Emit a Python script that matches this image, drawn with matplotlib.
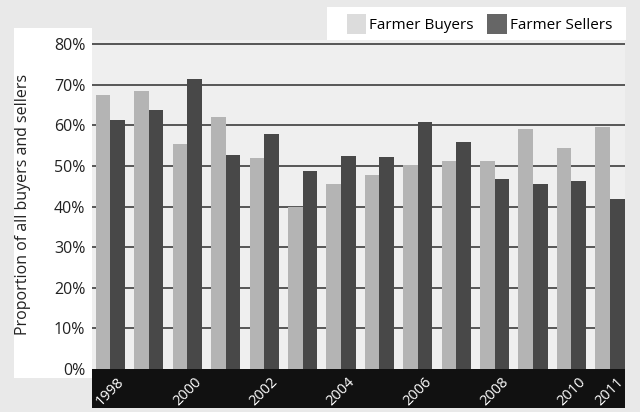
import matplotlib.pyplot as plt
from matplotlib.patches import Patch, Rectangle

years = [1998, 1999, 2000, 2001, 2002, 2003, 2004, 2005, 2006, 2007, 2008, 2009, 2010, 2011]
buyers = [67.5, 68.5, 55.3, 62.1, 51.9, 39.8, 45.5, 47.7, 50.2, 51.2, 51.2, 59.0, 54.3, 59.7]
sellers = [61.2, 63.7, 71.4, 52.8, 57.8, 48.7, 52.4, 52.3, 60.8, 56.0, 46.7, 45.5, 46.2, 41.9]
shown_years = [1998, 2000, 2002, 2004, 2006, 2008, 2010, 2011]
yticks = [0, 10, 20, 30, 40, 50, 60, 70, 80]

plt.rcParams['font.family'] = ['Open Sans', 'DejaVu Sans']

fig = plt.figure(figsize=(6.4, 4.12), dpi=100)
fig.patch.set_facecolor('#e9e9e9')

# white panels: behind the y axis labels and behind the legend
fig.patches.append(Rectangle((0.022, 0.083), 0.122, 0.85, transform=fig.transFigure,
                             facecolor='white', edgecolor='none', zorder=-5))
fig.patches.append(Rectangle((327 / 640, 1 - 40 / 412), 299 / 640, 33 / 412,
                             transform=fig.transFigure, facecolor='white',
                             edgecolor='none', zorder=-5))

ax = fig.add_axes([0.144, 0.1044, 0.833, 0.7985])
ax.set_facecolor('#efefef')
x = list(range(len(years)))
w = 0.38
ax.bar([i - w / 2 for i in x], buyers, width=w, color='#b4b4b4', zorder=3)
ax.bar([i + w / 2 for i in x], sellers, width=w, color='#484848', zorder=3)

ax.set_xlim(-0.475, 13.4)
ax.set_ylim(0, 81)
ax.set_yticks(yticks)
ax.set_yticklabels([f'{v}%' for v in yticks], fontsize=11.5, color='#222222')
ax.set_xticks([])
ax.tick_params(axis='y', length=0, pad=5)
for v in yticks[1:]:
    ax.axhline(v, color='#4a4a4a', lw=1.3, zorder=1)
for s in ax.spines.values():
    s.set_visible(False)
ax.set_ylabel('Proportion of all buyers and sellers', fontsize=11.5, color='#222222')
ax.yaxis.set_label_coords(-0.114, 0.5)

# black band with year labels
band = fig.add_axes([0.144, 0.0097, 0.833, 0.0947])
band.set_facecolor('#111111')
band.set_xlim(ax.get_xlim())
band.set_ylim(0, 1)
band.set_xticks([])
band.set_yticks([])
for s in band.spines.values():
    s.set_visible(False)
for yr in shown_years:
    i = years.index(yr)
    band.text(i, 0.42, str(yr), color='white', fontsize=10.5, rotation=45,
              ha='center', va='center')

handles = [Patch(facecolor='#dcdcdc', edgecolor='none', label='Farmer Buyers'),
           Patch(facecolor='#666666', edgecolor='none', label='Farmer Sellers')]
fig.legend(handles=handles, loc='center', bbox_to_anchor=(479.5 / 640, 1 - 24 / 412),
           ncol=2, fontsize=11, frameon=False, handlelength=1.25, handleheight=1.6,
           columnspacing=0.9, handletextpad=0.2, borderpad=0)

fig.savefig('out.png', dpi=100, facecolor=fig.get_facecolor())
